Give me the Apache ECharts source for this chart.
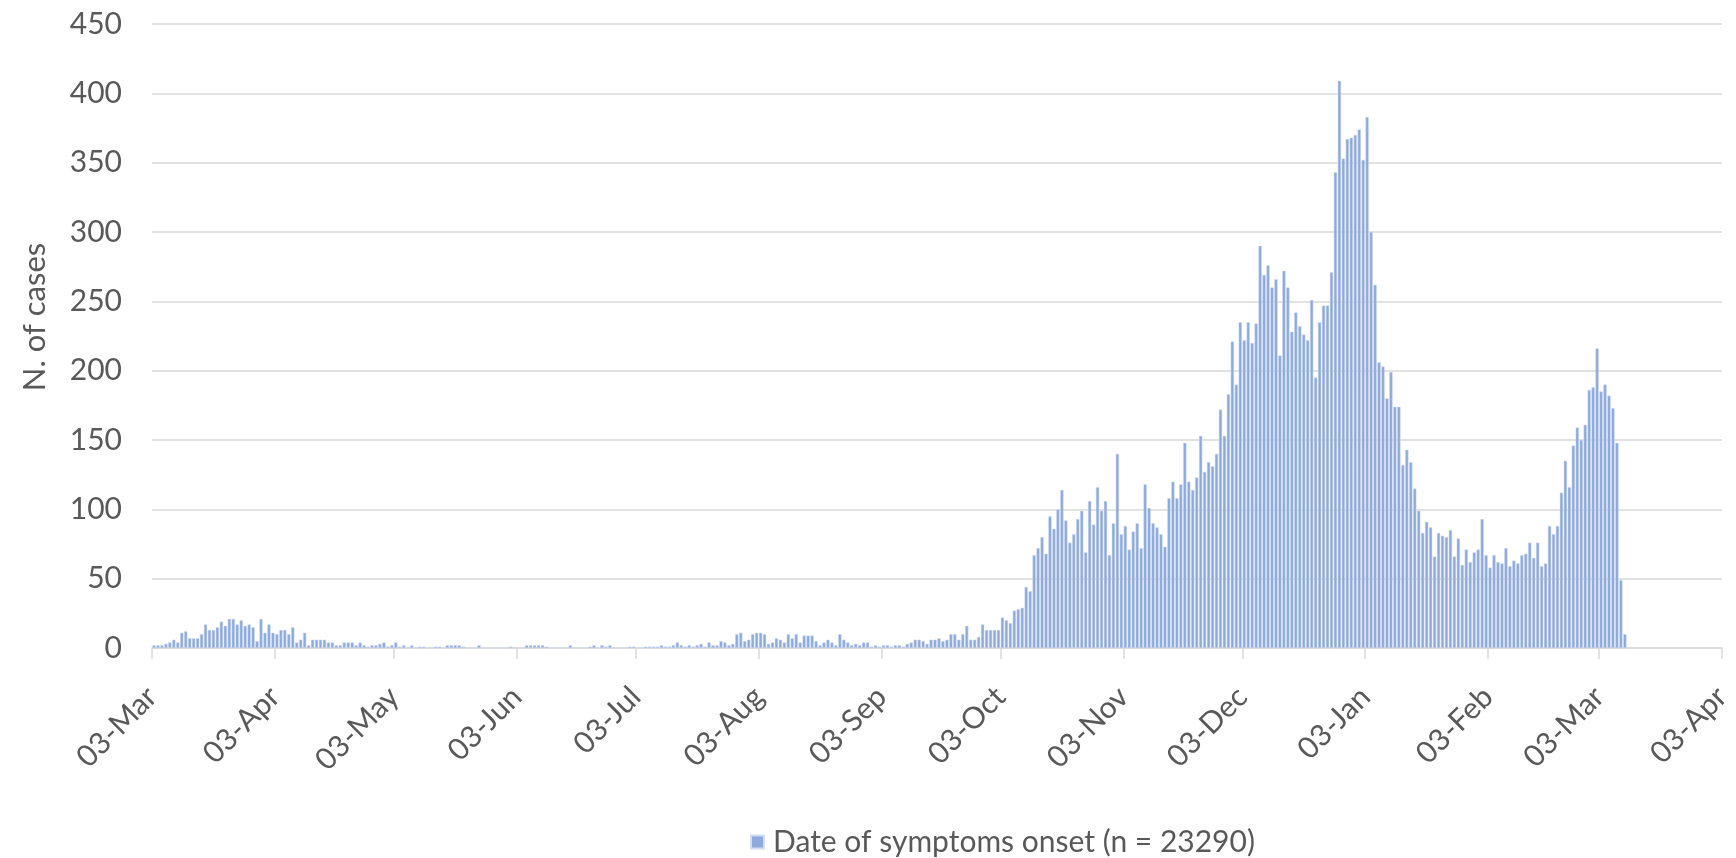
<!DOCTYPE html>
<html>
<head>
<meta charset="utf-8">
<script src="https://cdn.jsdelivr.net/npm/echarts@6/dist/echarts.min.js"></script>
<style>
html,body{margin:0;padding:0;background:#ffffff;}
#chart{width:1736px;height:858px;}
</style>
</head>
<body>
<div id="chart"></div>
<script>
// ---------------- data ----------------
const startDate = '2020-03-03';
// daily number of cases by date of symptoms onset, starting at startDate
const cases = [
  2,2,2,3,4,6,4,11,12,7, 7,7,10,17,13,13,15,19,16,21,
  21,17,20,16,17,15,5,21,11,17, 11,10,13,13,10,15,4,6,11,2,
  6,6,6,6,4,4,2,2,4,4, 4,2,4,2,1,2,2,3,4,1,
  2,4,1,2,0,2,0,1,1,0, 0,1,1,0,2,2,2,2,1,0,
  0,0,2,0,0,0,0,0,0,0, 1,0,0,0,2,2,2,2,2,1,
  0,0,0,0,0,2,0,0,0,0, 1,2,0,2,1,2,0,0,0,0,
  1,1,0,0,1,1,1,1,2,1, 1,2,4,2,1,2,1,2,3,1,
  4,2,2,5,4,2,3,10,11,5, 6,10,11,11,10,3,4,7,6,4,
  10,7,10,4,9,9,9,5,2,4, 6,4,2,10,6,4,2,3,2,4,
  4,1,2,1,2,2,1,2,2,1, 3,4,6,6,5,3,6,6,7,5,
  6,10,10,6,10,16,6,6,8,17, 13,13,13,13,22,20,18,27,28,29,
  44,41,67,72,80,68,95,86,100,114, 92,76,82,93,99,69,106,89,116,99,
  106,67,90,140,82,88,71,84,90,72, 118,101,90,87,82,73,108,120,108,118,
  148,120,114,123,153,127,134,131,140,172, 153,183,221,190,235,222,235,220,234,290,
  269,276,260,266,211,272,260,228,242,232, 226,222,251,195,235,247,247,271,343,409,
  353,367,368,370,374,352,383,300,262,206, 203,180,199,174,174,132,143,134,115,99,
  83,91,87,66,83,81,80,85,66,79, 60,71,62,69,71,93,67,58,67,62,
  61,72,59,63,61,67,68,76,65,76, 59,61,88,82,88,112,135,116,146,159,
  150,161,186,188,216,185,190,182,173,148, 49,10
];
const tickDates = ['2020-03-03','2020-04-03','2020-05-03','2020-06-03','2020-07-03','2020-08-03','2020-09-03',
                   '2020-10-03','2020-11-03','2020-12-03','2021-01-03','2021-02-03','2021-03-03','2021-04-03'];
const tickLabels = ['03-Mar','03-Apr','03-May','03-Jun','03-Jul','03-Aug','03-Sep',
                    '03-Oct','03-Nov','03-Dec','03-Jan','03-Feb','03-Mar','03-Apr'];
const yMin = 0, yMax = 450, yStep = 50;
const seriesName = 'Date of symptoms onset (n = 23290)';
const yName = 'N. of cases';

// ---------------- helpers ----------------
const DAY = 86400000;
function utc(s){ const p = s.split('-').map(Number); return Date.UTC(p[0], p[1]-1, p[2]); }
const t0 = utc(startDate);
function dayIndex(s){ return Math.round((utc(s) - t0) / DAY); }
const tickPos = tickDates.map(dayIndex);
const barData = cases.map((v, i) => [i + 0.5, v]);

const FONT = 'Lato, "Open Sans", "Noto Sans", sans-serif';
const TXT = '#595959';
const GRID = '#d9d9d9';

const chart = echarts.init(document.getElementById('chart'), null, {renderer: 'canvas'});
chart.setOption({
  animation: false,
  backgroundColor: '#ffffff',
  textStyle: {fontFamily: FONT},
  grid: {left: 152, right: 14, top: 24, bottom: 210},
  legend: {
    data: [seriesName],
    left: 745, top: 822,
    icon: 'rect', itemWidth: 13, itemHeight: 13,
    textStyle: {fontSize: 30, color: TXT, fontFamily: FONT, padding: [0,0,0,4]}
  },
  xAxis: {
    type: 'value',
    min: tickPos[0], max: tickPos[tickPos.length - 1],
    splitLine: {show: false},
    axisLine: {show: true, lineStyle: {color: GRID, width: 1.5}},
    axisTick: {show: true, customValues: tickPos, length: 11, lineStyle: {color: GRID, width: 1.5}},
    axisLabel: {
      customValues: tickPos,
      showMinLabel: true, showMaxLabel: true,
      rotate: 45, margin: 44, padding: [16, 0, 0, 0],
      fontSize: 30, color: TXT, fontFamily: FONT,
      formatter: function (v) { const k = tickPos.indexOf(Math.round(v)); return k >= 0 ? tickLabels[k] : ''; }
    }
  },
  yAxis: {
    type: 'value', min: yMin, max: yMax, interval: yStep,
    name: yName, nameLocation: 'middle', nameGap: 102, nameRotate: 90,
    nameTextStyle: {fontSize: 31, color: TXT, fontFamily: FONT, padding: [0,0,0,38]},
    axisLine: {show: false}, axisTick: {show: false},
    axisLabel: {fontSize: 30, color: TXT, fontFamily: FONT, margin: 30},
    splitLine: {lineStyle: {color: GRID, width: 1.5}}
  },
  series: [{
    name: seriesName,
    type: 'bar',
    data: barData,
    barWidth: 3.3,
    itemStyle: {color: '#8eaadb', borderColor: '#d2ddf2', borderWidth: 0.5}
  }]
});
</script>
</body>
</html>
